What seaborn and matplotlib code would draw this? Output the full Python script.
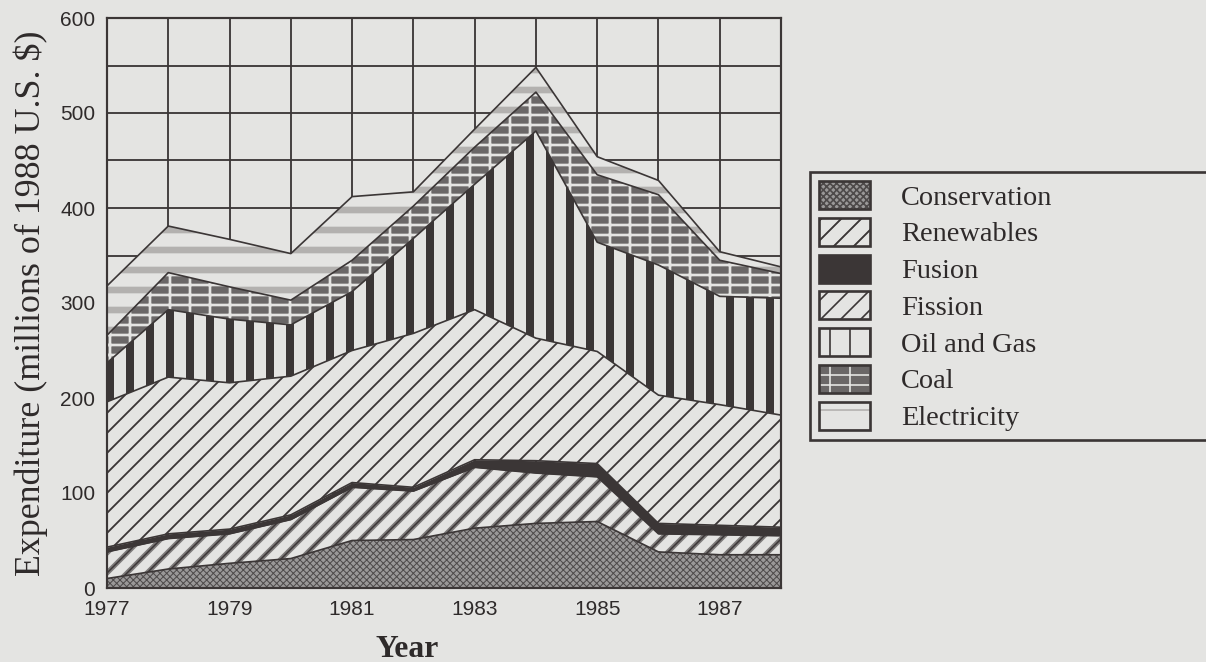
import numpy as np
import pandas as pd
import matplotlib
matplotlib.use("Agg")
import matplotlib.pyplot as plt
import matplotlib.patches as mpatches
from matplotlib.ticker import MultipleLocator, FixedLocator
import seaborn as sns

# ---------------- data (millions of 1988 U.S. $) ----------------
years = [1977, 1978, 1979, 1980, 1981, 1982, 1983, 1984, 1985, 1986, 1987, 1988]
conservation = [10, 20, 26, 31, 50, 51, 63, 68, 70, 38, 35, 35]
renewables = [28, 32, 31, 41, 56, 51, 64, 53, 47, 19, 21, 20]
fusion = [5, 5, 5, 5, 5, 4, 8, 13, 14, 11, 10, 9]
fission = [153, 165, 154, 146, 139, 162, 158, 129, 118, 135, 127, 118]
oil_and_gas = [41, 71, 67, 54, 62, 100, 132, 218, 115, 137, 114, 123]
coal = [29, 39, 34, 26, 33, 34, 39, 41, 71, 74, 38, 26]
electricity = [52, 49, 50, 49, 67, 15, 19, 26, 19, 15, 9, 7]
series_names = ["Conservation", "Renewables", "Fusion", "Fission",
                "Oil and Gas", "Coal", "Electricity"]
x_tick_labels = ["1977", "1979", "1981", "1983", "1985", "1987"]
y_label = "Expenditure (millions of 1988 U.S. $)"
x_label = "Year"

# ---------------- styling ----------------
sns.set_style("white")
plt.rcParams['font.family'] = ['Liberation Serif', 'DejaVu Serif']

BG = '#e4e4e2'
DARK = '#3b3636'
TXT = '#2e2a2a'

styles = {
    'Conservation': [dict(facecolor='#9a9898', hatch='xxxxxx', edgecolor='#4e4a4a', hlw=0.6)],
    'Renewables': [dict(facecolor=BG, hatch='//', edgecolor='#7d7a7a', hlw=3.0),
                   dict(facecolor='none', hatch='//', edgecolor=DARK, hlw=0.9)],
    'Fusion': [dict(facecolor=DARK, hatch=None, edgecolor=DARK, hlw=1.0)],
    'Fission': [dict(facecolor=BG, hatch='//', edgecolor=DARK, hlw=1.1)],
    'Oil and Gas': [dict(facecolor=BG, hatch='|', edgecolor=DARK, hlw=4.8)],
    'Coal': [dict(facecolor='#6a6767', hatch='--|', edgecolor=BG, hlw=1.6)],
    'Electricity': [dict(facecolor=BG, hatch='-', edgecolor='#b3b1af', hlw=4.0)],
}


def styled(factory, st):
    with plt.rc_context({'hatch.linewidth': st['hlw']}):
        art = factory(facecolor=st['facecolor'], edgecolor=st['edgecolor'],
                      hatch=st['hatch'], linewidth=0)
    if hasattr(art, 'set_hatch_linewidth'):
        art.set_hatch_linewidth(st['hlw'])
    return art


df = pd.DataFrame({
    "Conservation": conservation, "Renewables": renewables, "Fusion": fusion,
    "Fission": fission, "Oil and Gas": oil_and_gas, "Coal": coal,
    "Electricity": electricity}, index=years)
cum = df.cumsum(axis=1)

fig = plt.figure(figsize=(1206 / 120, 662 / 120), dpi=120, facecolor=BG)
ax = fig.add_axes([107 / 1206, 1 - 588 / 662, 674 / 1206, 570 / 662])
ax.set_facecolor(BG)

x = np.array(years)
lower = np.zeros(len(years))
for name in series_names:
    upper = cum[name].to_numpy(dtype=float)
    for st in styles[name]:
        styled(lambda **kw: ax.fill_between(x, lower, upper, zorder=2, **kw), st)
    sns.lineplot(x=x, y=upper, ax=ax, color=DARK, linewidth=1.0, zorder=3,
                 legend=False)
    lower = upper

# ---------------- axes ----------------
ax.set_xlim(1977, 1988)
ax.set_ylim(0, 600)
ax.xaxis.set_major_locator(FixedLocator(list(range(1977, 1988, 2))))
ax.set_xticklabels(x_tick_labels)
ax.xaxis.set_minor_locator(FixedLocator(list(range(1978, 1989, 2))))
ax.yaxis.set_major_locator(MultipleLocator(100))
ax.yaxis.set_minor_locator(MultipleLocator(50))
ax.tick_params(axis='x', which='major', length=0, pad=7, labelsize=12.5,
               labelcolor=TXT, labelfontfamily='Liberation Sans')
ax.tick_params(axis='x', which='minor', length=5.5, width=1.2, direction='out',
               color=DARK)
ax.tick_params(axis='y', which='both', length=5.5, width=1.2, direction='out',
               color=DARK, pad=1.5, labelsize=12.5, labelcolor=TXT,
               labelfontfamily='Liberation Sans')
ax.grid(True, which='both', color=DARK, linewidth=1.1)
ax.set_axisbelow(True)
for sp in ax.spines.values():
    sp.set_visible(True)
    sp.set_color(DARK)
    sp.set_linewidth(1.3)

ax.set_ylabel(y_label, fontsize=21.5, color=TXT)
ax.yaxis.set_label_coords(-0.087, 0.5)
fig.text(407 / 1206, 1 - 657 / 662, x_label, ha='center', va='baseline',
         fontsize=19, fontweight='bold', color=TXT)

# ---------------- legend ----------------
handles = []
for name in series_names:
    parts = [styled(lambda **kw: mpatches.Patch(**kw), st) for st in styles[name]]
    parts.append(mpatches.Patch(facecolor='none', edgecolor=DARK, linewidth=1.6))
    handles.append(tuple(parts))
leg = fig.legend(handles, series_names, loc='upper left',
                 bbox_to_anchor=(810 / 1206, 0.3, 0.5, 1 - 172 / 662 - 0.3),
                 bbox_transform=fig.transFigure, mode='expand', borderaxespad=0,
                 frameon=True, fancybox=False, edgecolor=DARK, facecolor=BG,
                 framealpha=1, fontsize=17, handlelength=1.8, handleheight=1.15,
                 labelspacing=0.25, handletextpad=1.1, borderpad=0.32)
leg.get_frame().set_linewidth(1.6)
for t in leg.get_texts():
    t.set_color(TXT)

fig.savefig("out.png", dpi=120, facecolor=BG)
